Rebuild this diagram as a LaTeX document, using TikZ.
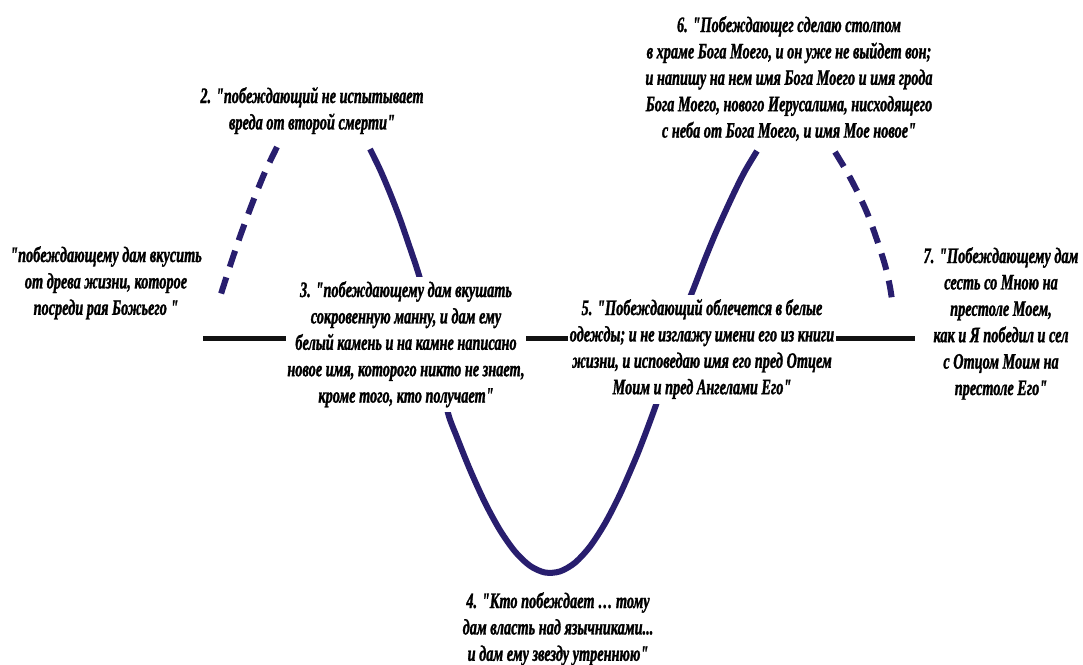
\documentclass[tikz,border=0pt]{standalone}
\usepackage{fontspec}
\newfontfamily\tf{Liberation Serif Bold Italic}[FakeStretch=0.65,FakeBold=1.3]
\definecolor{wavecol}{RGB}{40,30,110}
\definecolor{axiscol}{RGB}{18,18,18}
\tikzset{
  lbl/.style={anchor=base, inner sep=1.5pt, font=\tf\fontsize{22}{26.4}\selectfont},
  wbox/.style={fill=white},
  wave/.style={draw=wavecol, line width=6pt},
  wavedash/.style={wave, dash pattern=on 17pt off 11pt},
  axisline/.style={draw=axiscol, line width=5pt}
}
\newcommand{\ml}[1]{\begin{tabular}[t]{@{}c@{}}#1\end{tabular}}
\begin{document}
\begin{tikzpicture}[x=1pt,y=-1pt]
\useasboundingbox (0,0) rectangle (1083,664);
\fill[white] (0,0) rectangle (1083,664);
% axis
\coordinate (axL) at (203,338);
\coordinate (axR) at (915,338);
\draw[axisline] (axL) -- (axR);
% left dashed rise
\draw[wavedash] plot[smooth] coordinates {(277,147) (265,172) (252,204) (240,236.5) (230,266) (220,297)};
% main solid wave
\draw[wave] plot[smooth] coordinates {(370,149) (380,169.5) (390,193) (400,219) (410,248) (418,272) (426,300) (434,335) (441,375) (448,413) (457,437.4) (470,469.7) (485,502.7) (500,530.2) (515,551.5) (530,565.8) (545,572.5) (560,571.4) (575,562.7) (590,546.5) (605,523.4) (620,494.3) (635,460.1) (643,440) (650,421.4) (657,402) (665,378) (672,352) (680,322) (686,307) (693,290) (705,259) (717,230) (733,195) (745,171) (757,151)};
% right dashed fall
\draw[wavedash] plot[smooth] coordinates {(835,152) (847,172) (858,193) (868,215) (877,240) (885,265) (890,287) (893,307)};
% texts
\node[lbl] (t1) at (106,262) {\ml{"побеждающему дам вкусить\\от древа жизни, которое\\посреди рая Божьего "}};
\node[lbl] (t2) at (312,103) {\ml{2. "побеждающий не испытывает\\вреда от второй смерти"}};
\node[lbl,wbox] (t3) at (406,297) {\ml{3. "побеждающему дам вкушать\\сокровенную манну, и дам ему\\белый камень и на камне написано\\новое имя, которого никто не знает,\\кроме того, кто получает"}};
\node[lbl] (t4) at (558,608) {\ml{4. "Кто побеждает … тому\\дам власть над язычниками...\\и дам ему звезду утреннюю"}};
\node[lbl,wbox] (t5) at (702,315) {\ml{5. "Побеждающий облечется в белые\\одежды; и не изглажу имени его из книги\\жизни, и исповедаю имя его пред Отцем\\Моим и пред Ангелами Его"}};
\node[lbl] (t6) at (789,32) {\ml{6. "Побеждающег сделаю столпом\\в храме Бога Моего, и он уже не выйдет вон;\\и напишу на нем имя Бога Моего и имя грода\\Бога Моего, нового Иерусалима, нисходящего\\с неба от Бога Моего, и имя Мое новое"}};
\node[lbl] (t7) at (1001,263) {\ml{7. "Побеждающему дам\\сесть со Мною на\\престоле Моем,\\как и Я победил и сел\\с Отцом Моим на\\престоле Его"}};
\end{tikzpicture}
\end{document}
